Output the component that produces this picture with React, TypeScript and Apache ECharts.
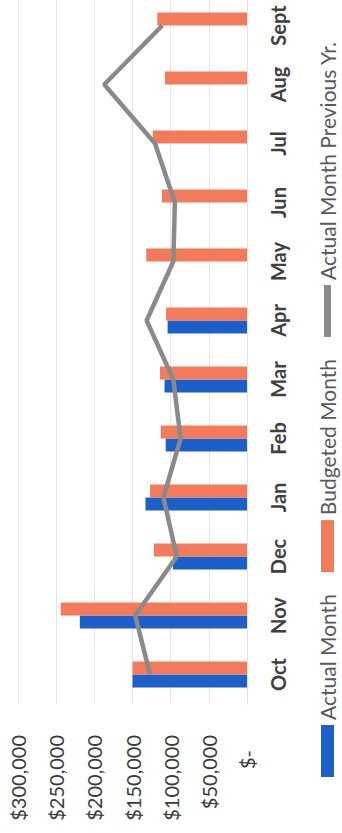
import React, { useEffect, useRef } from "react";
import * as echarts from "echarts";

const months = ["Oct", "Nov", "Dec", "Jan", "Feb", "Mar", "Apr", "May", "Jun", "Jul", "Aug", "Sept"];
const actualMonth = [150000, 219000, 97000, 133000, 106500, 108000, 104000, null, null, null, null, null];
const budgetedMonth = [150000, 244000, 122000, 127000, 113000, 114000, 106000, 132000, 111500, 123500, 107500, 117500];
const actualPrevYear = [127000, 146500, 92000, 109500, 87000, 96500, 131500, 96500, 94500, 120500, 187000, 111000];
const valueTicks = { min: 0, max: 300000, interval: 50000 };

const FONT = "Lato, 'Open Sans', sans-serif";

function fmt(v: number): string {
  if (v === 0) return "{z|$-}";
  return "$" + v.toLocaleString("en-US");
}

export default function App() {
  const ref = useRef<HTMLDivElement>(null);
  useEffect(() => {
    if (!ref.current) return;
    const chart = echarts.init(ref.current, undefined, { renderer: "svg" });
    chart.setOption({
      animation: false,
      backgroundColor: "#ffffff",
      textStyle: { fontFamily: FONT },
      grid: { left: 129, right: 0, top: 18, bottom: 95, containLabel: false },
      legend: {
        left: 51,
        top: 312,
        itemWidth: 52,
        itemHeight: 13,
        itemGap: 22,
        textStyle: { fontFamily: FONT, fontSize: 21, color: "#595959" },
        data: [
          { name: "Actual Month", icon: "rect" },
          { name: "Budgeted Month", icon: "rect" },
          {
            name: "Actual Month Previous Yr.",
            icon: "path://M0,0M52,13M0,3H52V10H0Z",
            itemStyle: { color: "#8a8a8a" },
          },
        ],
      },
      xAxis: {
        type: "category",
        data: months,
        axisTick: { show: false },
        axisLine: { show: true, lineStyle: { color: "#e2e2e2" } },
        axisLabel: { margin: 21, fontFamily: FONT, fontSize: 20, fontWeight: "bold", color: "#404040" },
      },
      yAxis: {
        type: "value",
        min: valueTicks.min,
        max: valueTicks.max,
        interval: valueTicks.interval,
        axisLine: { show: false },
        axisTick: { show: false },
        splitLine: { lineStyle: { color: "#e6e6e6", width: 1 } },
        axisLabel: {
          margin: 31,
          fontFamily: FONT,
          fontSize: 20,
          color: "#3a3a3a",
          formatter: fmt,
          rich: { z: { fontFamily: FONT, fontSize: 20, color: "#3a3a3a", padding: [0, 15, 0, 0] } },
        },
      },
      series: [
        {
          name: "Actual Month",
          type: "bar",
          data: actualMonth,
          barWidth: 13,
          barGap: "0%",
          itemStyle: { color: "#1c5fc8" },
        },
        {
          name: "Budgeted Month",
          type: "bar",
          data: budgetedMonth,
          barWidth: 13,
          barGap: "0%",
          itemStyle: { color: "#f47a5c" },
        },
        {
          name: "Actual Month Previous Yr.",
          type: "line",
          data: actualPrevYear,
          symbol: "none",
          z: 5,
          lineStyle: { color: "#8a8a8a", width: 4.5 },
          itemStyle: { color: "#8a8a8a" },
        },
      ],
    });
    return () => chart.dispose();
  }, []);
  return (
    <div style={{ position: "fixed", left: 0, top: 0, width: 342, height: 833, overflow: "hidden", background: "#ffffff" }}>
      <div
        ref={ref}
        style={{
          position: "absolute",
          left: 0,
          top: 0,
          width: 837,
          height: 342,
          transformOrigin: "0 0",
          transform: "translateY(833px) rotate(-90deg)",
        }}
      />
    </div>
  );
}
